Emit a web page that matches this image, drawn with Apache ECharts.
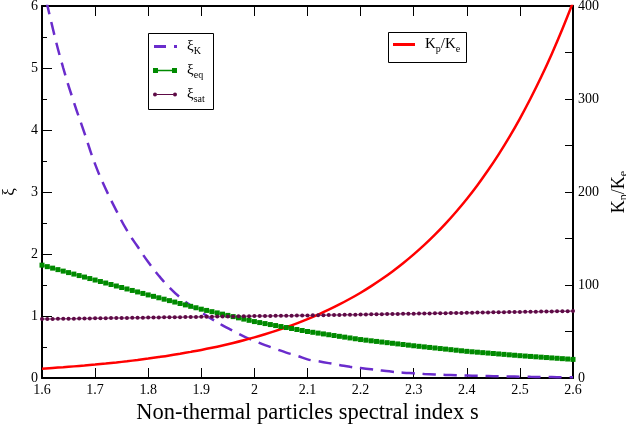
<!DOCTYPE html>
<html>
<head>
<meta charset="utf-8">
<script src="https://cdn.jsdelivr.net/npm/echarts@6/dist/echarts.min.js"></script>
<style>
html,body{margin:0;padding:0;background:#fff;}
#chart{width:626px;height:427px;}
</style>
</head>
<body>
<div id="chart"></div>
<script>
// s grid for the marker series (step 0.01)
const sFine = [1.60,1.61,1.62,1.63,1.64,1.65,1.66,1.67,1.68,1.69,
1.70,1.71,1.72,1.73,1.74,1.75,1.76,1.77,1.78,1.79,
1.80,1.81,1.82,1.83,1.84,1.85,1.86,1.87,1.88,1.89,
1.90,1.91,1.92,1.93,1.94,1.95,1.96,1.97,1.98,1.99,
2.00,2.01,2.02,2.03,2.04,2.05,2.06,2.07,2.08,2.09,
2.10,2.11,2.12,2.13,2.14,2.15,2.16,2.17,2.18,2.19,
2.20,2.21,2.22,2.23,2.24,2.25,2.26,2.27,2.28,2.29,
2.30,2.31,2.32,2.33,2.34,2.35,2.36,2.37,2.38,2.39,
2.40,2.41,2.42,2.43,2.44,2.45,2.46,2.47,2.48,2.49,
2.50,2.51,2.52,2.53,2.54,2.55,2.56,2.57,2.58,2.59,
2.60];
// s grid for the smooth curves (step 0.02)
const sCoarse = [1.60,1.62,1.64,1.66,1.68,1.70,1.72,1.74,1.76,1.78,
1.80,1.82,1.84,1.86,1.88,1.90,1.92,1.94,1.96,1.98,
2.00,2.02,2.04,2.06,2.08,2.10,2.12,2.14,2.16,2.18,
2.20,2.22,2.24,2.26,2.28,2.30,2.32,2.34,2.36,2.38,
2.40,2.42,2.44,2.46,2.48,2.50,2.52,2.54,2.56,2.58,
2.60];

const xiK = [6.4,5.65,5.0,4.45,3.95,3.45,3.05,2.7,2.38,2.12,
1.87,1.65,1.46,1.30,1.17,1.06,0.95,0.85,0.76,0.67,
0.60,0.53,0.47,0.41,0.36,0.30,0.27,0.24,0.21,0.18,
0.16,0.14,0.12,0.10,0.085,0.075,0.065,0.057,0.05,0.044,
0.04,0.035,0.031,0.028,0.025,0.022,0.019,0.017,0.015,0.013,
0.011];

const xiEq = [1.82,1.796,1.772,1.748,1.724,1.70,1.676,1.652,1.628,1.604,
1.58,1.556,1.532,1.508,1.484,1.46,1.436,1.412,1.388,1.364,
1.34,1.317,1.294,1.271,1.248,1.225,1.202,1.179,1.156,1.133,
1.11,1.09,1.07,1.05,1.03,1.01,0.99,0.97,0.95,0.93,
0.91,0.894,0.878,0.862,0.846,0.83,0.814,0.798,0.782,0.766,
0.75,0.737,0.724,0.711,0.698,0.685,0.672,0.659,0.646,0.633,
0.62,0.61,0.60,0.59,0.58,0.57,0.56,0.55,0.54,0.53,
0.52,0.511,0.502,0.493,0.484,0.475,0.466,0.457,0.448,0.439,
0.43,0.423,0.416,0.409,0.402,0.395,0.388,0.381,0.374,0.367,
0.36,0.354,0.348,0.342,0.336,0.33,0.324,0.318,0.312,0.306,
0.30];

const xiSat = [0.950,0.951,0.952,0.954,0.955,0.956,0.957,0.958,0.960,0.961,
0.962,0.963,0.964,0.966,0.967,0.968,0.969,0.970,0.972,0.973,
0.974,0.975,0.976,0.978,0.979,0.980,0.981,0.982,0.984,0.985,
0.986,0.987,0.988,0.990,0.991,0.992,0.993,0.994,0.996,0.997,
0.998,0.999,1.000,1.002,1.003,1.004,1.005,1.006,1.008,1.009,
1.010,1.011,1.013,1.014,1.016,1.017,1.018,1.020,1.021,1.022,
1.024,1.025,1.027,1.028,1.029,1.031,1.032,1.034,1.035,1.036,
1.038,1.039,1.041,1.042,1.043,1.045,1.046,1.048,1.049,1.050,
1.052,1.053,1.055,1.056,1.057,1.059,1.060,1.062,1.063,1.064,
1.066,1.067,1.069,1.070,1.071,1.073,1.074,1.076,1.077,1.078,
1.080];

const kpke = [10.0,10.8,11.6,12.5,13.4,14.4,15.5,16.7,18.0,19.4,
20.9,22.5,24.2,26.1,28.1,30.2,32.5,35.0,37.7,40.6,
43.7,47.1,50.7,54.6,58.8,63.3,68.2,73.4,79.1,85.2,
91.7,98.8,106.4,114.6,123.4,132.9,143.1,154.1,166.0,178.8,
192.5,207.3,223.3,240.5,259.0,279.0,300.5,323.6,348.5,375.3,
404];

const xTicks = ['1.6','1.7','1.8','1.9','2','2.1','2.2','2.3','2.4','2.5','2.6'];
const leftTicks = ['0','1','2','3','4','5','6'];
const rightTicks = ['0','100','200','300','400'];

const serif = '"Liberation Serif", "DejaVu Serif", serif';
const pair = (xs, ys) => xs.map((x, i) => [x, ys[i]]);

const chart = echarts.init(document.getElementById('chart'), null, {renderer: 'canvas'});

const richLegend = {
  b: {fontFamily: serif, fontSize: 15, color: '#000'},
  s: {fontFamily: serif, fontSize: 10, color: '#000', padding: [9, 0, 0, 0]}
};
const subOf = {xiK: 'K', xiEq: 'eq', xiSat: 'sat'};
function oneLegend(name, icon, left, top, w, h) {
  return {
    data: [{name: name, icon: icon}],
    left: left, top: top, padding: 0, z: 10,
    itemWidth: w, itemHeight: h,
    formatter: function (n) {
      if (n === 'kpke') return '{b|K}{s|p}{b|/K}{s|e}';
      return '{b|ξ}{s|' + subOf[n] + '}';
    },
    textStyle: {rich: richLegend, padding: [0, 0, 0, 5]}
  };
}

chart.setOption({
  animation: false,
  backgroundColor: '#fff',
  grid: {left: 42, right: 53, top: 6, bottom: 49, containLabel: false, outerBoundsMode: 'none'},
  graphic: [
    {type: 'rect', left: 148, top: 33, shape: {width: 65, height: 76}, z: 1,
     style: {fill: '#fff', stroke: '#000', lineWidth: 1}},
    {type: 'rect', left: 388, top: 32, shape: {width: 78, height: 30}, z: 1,
     style: {fill: '#fff', stroke: '#000', lineWidth: 1}}
  ],
  legend: [
    oneLegend('xiK', 'path://M0,0h12v3H0z M20,0h3v3h-3z', 154, 39, 23, 3),
    oneLegend('xiEq', 'path://M0,0h5v5H0z M19,0h5v5h-5z M5,1.75h14v1.5H5z', 153, 63, 24, 5),
    oneLegend('xiSat', 'path://M0,2a2,2 0 1,0 4,0a2,2 0 1,0 -4,0z M20,2a2,2 0 1,0 4,0a2,2 0 1,0 -4,0z M4,1.4h16v1.2H4z', 153, 87, 24, 4),
    oneLegend('kpke', 'path://M0,0h22v3H0z', 393, 37, 22, 3)
  ],
  xAxis: [
    {
      type: 'value', min: 1.6, max: 2.6, interval: 0.1,
      name: 'Non-thermal particles spectral index s',
      nameLocation: 'middle', nameGap: 20,
      nameTextStyle: {fontFamily: serif, fontSize: 22.5, color: '#000'},
      axisLine: {show: true, onZero: false, lineStyle: {color: '#000', width: 2}},
      axisTick: {show: true, inside: true, length: 10, lineStyle: {color: '#000', width: 1}},
      axisLabel: {fontFamily: serif, fontSize: 14, color: '#000', margin: 5,
        formatter: function (v) { return xTicks[Math.round((v - 1.6) * 10)] ?? ''; }},
      splitLine: {show: false}
    },
    {
      type: 'value', min: 1.6, max: 2.6, interval: 0.1, position: 'top',
      axisLine: {show: true, onZero: false, lineStyle: {color: '#000', width: 2}},
      axisTick: {show: true, inside: true, length: 10, lineStyle: {color: '#000', width: 1}},
      axisLabel: {show: false},
      splitLine: {show: false}
    }
  ],
  yAxis: [
    {
      type: 'value', min: 0, max: 6, interval: 1, position: 'left',
      name: 'ξ', nameLocation: 'middle', nameGap: 24, nameRotate: 90,
      nameTextStyle: {fontFamily: serif, fontSize: 17, color: '#000'},
      axisLine: {show: true, onZero: false, lineStyle: {color: '#000', width: 2}},
      axisTick: {show: true, inside: true, length: 10, lineStyle: {color: '#000', width: 1}},
      minorTick: {show: true, splitNumber: 2, length: 5, lineStyle: {color: '#000', width: 1}},
      axisLabel: {fontFamily: serif, fontSize: 14, color: '#000', margin: 4,
        formatter: function (v) { return leftTicks[Math.round(v)] ?? ''; }},
      splitLine: {show: false}, minorSplitLine: {show: false}
    },
    {
      type: 'value', min: 0, max: 400, interval: 100, position: 'right',
      name: '{b|K}{s|p}{b|/K}{s|e}', nameLocation: 'middle', nameGap: 30, nameRotate: 90,
      nameTextStyle: {rich: {
        b: {fontFamily: serif, fontSize: 18, color: '#000'},
        s: {fontFamily: serif, fontSize: 12, color: '#000', padding: [10, 0, 0, 0]}
      }},
      axisLine: {show: true, onZero: false, lineStyle: {color: '#000', width: 2}},
      axisTick: {show: true, inside: true, length: 8, lineStyle: {color: '#000', width: 1}},
      minorTick: {show: true, splitNumber: 2, length: 8, lineStyle: {color: '#000', width: 1}},
      axisLabel: {fontFamily: serif, fontSize: 14, color: '#000', margin: 5,
        formatter: function (v) { return rightTicks[Math.round(v / 100)] ?? ''; }},
      splitLine: {show: false}, minorSplitLine: {show: false}
    }
  ],
  series: [
    {
      name: 'xiK', type: 'line', xAxisIndex: 0, yAxisIndex: 0,
      data: pair(sCoarse, xiK), smooth: true, showSymbol: false, symbol: 'none',
      clip: true,
      color: '#6a2ccc',
      lineStyle: {color: '#6a2ccc', width: 2.5, type: [13, 8]}
    },
    {
      name: 'xiEq', type: 'line', xAxisIndex: 0, yAxisIndex: 0,
      data: pair(sFine, xiEq), showAllSymbol: true,
      symbol: 'rect', symbolSize: 5,
      itemStyle: {color: '#008a00'},
      lineStyle: {color: '#6cc86c', width: 2}
    },
    {
      name: 'xiSat', type: 'line', xAxisIndex: 0, yAxisIndex: 0,
      data: pair(sFine, xiSat), showAllSymbol: true,
      symbol: 'circle', symbolSize: 4,
      itemStyle: {color: '#5e0a46'},
      lineStyle: {color: '#9a5a8a', width: 1.5}
    },
    {
      name: 'kpke', type: 'line', xAxisIndex: 0, yAxisIndex: 1,
      data: pair(sCoarse, kpke), smooth: 0.4, showSymbol: false, symbol: 'none',
      clip: true,
      color: '#ff0000',
      lineStyle: {color: '#ff0000', width: 2.5}
    }
  ]
});
</script>
</body>
</html>
